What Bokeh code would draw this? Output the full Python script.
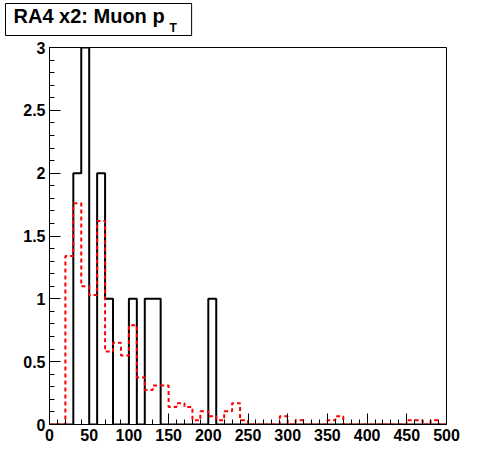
from bokeh.plotting import figure
from bokeh.models import Range1d, FixedTicker, Label
from bokeh.embed import file_html
from bokeh.resources import INLINE

# ---- data ----
bin_edges = list(range(0, 510, 10))
data_counts = [0, 0, 0, 2, 3, 0, 2, 1, 0, 0,
               1, 0, 1, 1, 0, 0, 0, 0, 0, 0,
               1, 0, 0, 0, 0, 0, 0, 0, 0, 0,
               0, 0, 0, 0, 0, 0, 0, 0, 0, 0,
               0, 0, 0, 0, 0, 0, 0, 0, 0, 0]
mc_counts = [0, 0, 1.34, 1.76, 1.10, 1.03, 1.62, 0.58, 0.65, 0.55,
             0.79, 0.375, 0.275, 0.31, 0.31, 0.14, 0.17, 0.14, 0.034, 0.105,
             0.066, 0.034, 0.105, 0.17, 0.034, 0, 0, 0, 0, 0.066,
             0, 0.034, 0, 0, 0, 0.034, 0.066, 0, 0, 0,
             0, 0, 0, 0, 0, 0.034, 0.034, 0, 0.034, 0]
x_major = [0, 50, 100, 150, 200, 250, 300, 350, 400, 450, 500]
x_minor = list(range(0, 510, 10))
y_major = [0, 0.5, 1, 1.5, 2, 2.5, 3]
y_minor = [round(i * 0.1, 1) for i in range(31)]
y_labels = {0: "0", 0.5: "0.5", 1: "1", 1.5: "1.5", 2: "2", 2.5: "2.5", 3: "3"}
title_text = "RA4 x2: Muon p"
title_sub = "T"

FONT = "Liberation Sans"

p = figure(width=480, height=456, output_backend="svg", toolbar_location=None,
           x_range=Range1d(0, 500), y_range=Range1d(0, 3),
           min_border_left=49, min_border_right=34, min_border_top=47, min_border_bottom=32)
p.background_fill_color = "white"
p.border_fill_color = "white"
p.outline_line_color = "black"
p.outline_line_width = 1
p.grid.visible = False

p.step(x=bin_edges, y=data_counts + [data_counts[-1]], mode="after",
       line_color="black", line_width=2)
p.step(x=bin_edges, y=mc_counts + [mc_counts[-1]], mode="after",
       line_color="red", line_width=2, line_dash="4 3")

for ax in (p.xaxis[0], p.yaxis[0]):
    ax.axis_line_color = "black"
    ax.axis_line_width = 1
    ax.major_tick_out = 0
    ax.major_tick_in = 11
    ax.minor_tick_out = 0
    ax.minor_tick_in = 5
    ax.major_tick_line_color = "black"
    ax.minor_tick_line_color = "black"
    ax.major_label_text_font = FONT
    ax.major_label_text_font_style = "bold"
    ax.major_label_text_font_size = "16px"
    ax.major_label_text_color = "black"

p.xaxis[0].ticker = FixedTicker(ticks=x_major, minor_ticks=x_minor)
p.yaxis[0].ticker = FixedTicker(ticks=y_major, minor_ticks=y_minor)
p.yaxis[0].major_label_overrides = y_labels
p.xaxis[0].major_label_standoff = 4
p.yaxis[0].major_label_standoff = 4

# title box: label in the panel above the frame (screen units of that panel)
p.add_layout(Label(x=-44, y=44, x_units="screen", y_units="screen",
                   text=title_text, text_font=FONT, text_font_style="bold",
                   text_font_size="20px", text_color="black",
                   text_baseline="top", text_align="left",
                   padding=dict(left=8, right=27, top=1, bottom=9),
                   border_line_color="black", border_line_width=1,
                   background_fill_color="white"), "above")
# subscript, in the (otherwise empty) right panel
p.add_layout(Label(x=-277, y=397, x_units="screen", y_units="screen",
                   text=title_sub, text_font=FONT, text_font_style="bold",
                   text_font_size="12px", text_color="black",
                   text_baseline="alphabetic"), "right")

open("out.html", "w").write(file_html(p, INLINE))
